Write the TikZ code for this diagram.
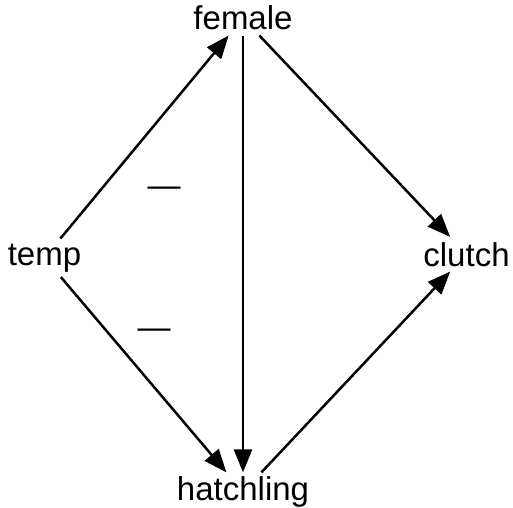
\documentclass[tikz,border=0pt]{standalone}
\usepackage{fontspec}
\setmainfont{Liberation Sans}
\usetikzlibrary{arrows.meta}
\begin{document}
\begin{tikzpicture}[x=1bp,y=-1bp,
  vtx/.style={inner sep=5bp, font=\fontsize{33bp}{39bp}\selectfont, anchor=base},
  arr/.style={line width=2.5bp, -{Triangle[length=23bp,width=18bp]}},
  sign/.style={inner sep=0pt, font=\fontsize{33bp}{39bp}\selectfont}]
\useasboundingbox (0,0) rectangle (513,508);
\node[vtx] (female) at (243,30) {female};
\node[vtx] (temp) at (44.5,265) {temp};
\node[vtx] (clutch) at (466.5,266) {clutch};
\node[vtx, inner sep=4bp] (hatchling) at (243,500.5) {hatchling};
\draw[arr] (temp) -- (female);
\draw[arr] (temp) -- (hatchling);
\draw[arr] (female.south) -- (hatchling.north);
\draw[arr] (female) -- (clutch);
\draw[arr] (hatchling) -- (clutch);
\node[sign] (minusA) at (164,192) {—};
\node[sign] (minusB) at (154,334) {—};
\end{tikzpicture}
\end{document}
